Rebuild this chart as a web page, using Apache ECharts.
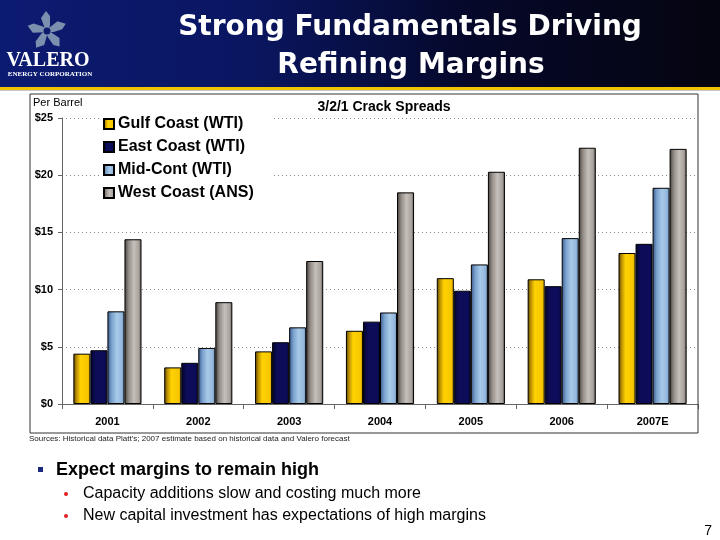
<!DOCTYPE html>
<html>
<head>
<meta charset="utf-8">
<script src="https://cdn.jsdelivr.net/npm/echarts@6/dist/echarts.min.js"></script>
<style>
html,body{margin:0;padding:0;background:#fff;}
#chart{width:720px;height:540px;}
</style>
</head>
<body>
<div id="chart"></div>
<script>
const categories = ['2001', '2002', '2003', '2004', '2005', '2006', '2007E'];
const seriesNames = ['Gulf Coast (WTI)', 'East Coast (WTI)', 'Mid-Cont (WTI)', 'West Coast (ANS)'];
const gulfCoast = [4.4, 3.2, 4.6, 6.4, 11.0, 10.9, 13.2];
const eastCoast = [4.7, 3.6, 5.4, 7.2, 9.9, 10.3, 14.0];
const midCont = [8.1, 4.9, 6.7, 8.0, 12.2, 14.5, 18.9];
const westCoast = [14.4, 8.9, 12.5, 18.5, 20.3, 22.4, 22.3];
const yTicks = [0, 5, 10, 15, 20, 25];

const G = echarts.graphic.LinearGradient;
const fills = [
  new G(0, 0, 1, 0, [{offset: 0, color: '#5e4600'}, {offset: 0.2, color: '#c09400'}, {offset: 0.42, color: '#ffd200'}, {offset: 0.85, color: '#f7c600'}, {offset: 1, color: '#d0a000'}]),
  new G(0, 0, 1, 0, [{offset: 0, color: '#04042a'}, {offset: 0.3, color: '#0c0c58'}, {offset: 0.8, color: '#0c0c5a'}, {offset: 1, color: '#070738'}]),
  new G(0, 0, 1, 0, [{offset: 0, color: '#36568a'}, {offset: 0.25, color: '#7aa2cd'}, {offset: 0.55, color: '#a8cae9'}, {offset: 0.85, color: '#94b8dc'}, {offset: 1, color: '#5f82b0'}]),
  new G(0, 0, 1, 0, [{offset: 0, color: '#45403c'}, {offset: 0.25, color: '#958d87'}, {offset: 0.55, color: '#c6c0ba'}, {offset: 0.85, color: '#a8a19b'}, {offset: 1, color: '#56504c'}])
];
const dataSets = [gulfCoast, eastCoast, midCont, westCoast];

function starArms() {
  const arms = [];
  for (let i = 0; i < 5; i++) {
    arms.push({
      type: 'polygon',
      x: 47, y: 31,
      rotation: -i * Math.PI * 2 / 5,
      shape: {points: [[-2, -2], [-6, -13], [-1, -20], [3, -15], [3, -6], [2, -1]]},
      style: {fill: '#7a90ae'}
    });
  }
  arms.push({type: 'circle', shape: {cx: 47, cy: 31, r: 3.5}, style: {fill: '#0b1a6b'}});
  return arms;
}

const chart = echarts.init(document.getElementById('chart'), null, {renderer: 'canvas'});
chart.setOption({
  animation: false,
  backgroundColor: '#ffffff',
  grid: {left: 62, right: 22, top: 118, bottom: 136, containLabel: false},
  legend: {
    data: seriesNames,
    orient: 'vertical',
    left: 100, top: 112,
    padding: [4, 20, 4, 3],
    backgroundColor: '#ffffff',
    itemWidth: 10, itemHeight: 10, itemGap: 7,
    icon: 'rect',
    textStyle: {fontFamily: 'Liberation Sans, Arial', fontWeight: 'bold', fontSize: 16, color: '#000', lineHeight: 16, padding: [0, 0, 0, -1]}
  },
  xAxis: {
    type: 'category',
    data: categories,
    axisLine: {lineStyle: {color: '#666', width: 1}},
    axisTick: {show: true, length: 5, lineStyle: {color: '#666'}},
    axisLabel: {fontFamily: 'Liberation Sans, Arial', fontWeight: 'bold', fontSize: 11, color: '#000', margin: 12}
  },
  yAxis: {
    type: 'value',
    min: yTicks[0], max: yTicks[yTicks.length - 1], interval: 5,
    axisLine: {show: true, lineStyle: {color: '#666', width: 1}},
    axisTick: {show: true, length: 4, lineStyle: {color: '#666'}},
    axisLabel: {fontFamily: 'Liberation Sans, Arial', fontWeight: 'bold', fontSize: 11, color: '#000', margin: 9, formatter: v => '$' + v},
    splitLine: {show: true, lineStyle: {color: '#888', type: [1, 3], width: 1}}
  },
  series: seriesNames.map((name, i) => ({
    name: name,
    type: 'bar',
    data: dataSets[i],
    barGap: '0%',
    barCategoryGap: '25%',
    itemStyle: {color: fills[i], borderColor: '#000', borderWidth: 1},
    emphasis: {disabled: true}
  })),
  graphic: [
    {type: 'rect', shape: {x: 0, y: 0, width: 720, height: 88}, z: -1,
      style: {fill: new G(0, 0, 1, 0, [{offset: 0, color: '#0c1b72'}, {offset: 0.35, color: '#0a1660'}, {offset: 0.65, color: '#05082a'}, {offset: 1, color: '#050510'}])}},
    {type: 'rect', shape: {x: 0, y: 87, width: 720, height: 3}, style: {fill: '#f0c400'}},
    {type: 'rect', shape: {x: 0, y: 90, width: 720, height: 1}, style: {fill: '#c8c8c8'}},
    ...starArms(),
    {type: 'text', x: 48, y: 61, style: {text: 'VALERO', fill: '#fff', font: 'bold 20px "Liberation Serif", serif', textAlign: 'center', textVerticalAlign: 'middle'}},
    {type: 'text', x: 50, y: 74, style: {text: 'ENERGY CORPORATION', fill: '#fff', font: 'bold 7px "Liberation Serif", serif', textAlign: 'center', textVerticalAlign: 'middle'}},
    {type: 'text', x: 410, y: 28, style: {text: 'Strong Fundamentals Driving', fill: '#fff', font: 'bold 28px "DejaVu Sans"', textAlign: 'center', textVerticalAlign: 'middle'}},
    {type: 'text', x: 411, y: 66, style: {text: 'Refining Margins', fill: '#fff', font: 'bold 28px "DejaVu Sans"', textAlign: 'center', textVerticalAlign: 'middle'}},
    {type: 'rect', shape: {x: 30, y: 94, width: 668, height: 339}, z: 100, silent: true,
      style: {fill: 'none', stroke: '#333', lineWidth: 1}},
    {type: 'text', x: 33, y: 103, style: {text: 'Per Barrel', fill: '#000', font: '11px "Liberation Sans", Arial', textVerticalAlign: 'middle'}},
    {type: 'text', x: 384, y: 107, style: {text: '3/2/1 Crack Spreads', fill: '#000', font: 'bold 14px "Liberation Sans", Arial', textAlign: 'center', textVerticalAlign: 'middle'}},
    {type: 'text', x: 29, y: 439, style: {text: "Sources: Historical data Platt's; 2007 estimate based on historical data and Valero forecast", fill: '#222', font: '8px "Liberation Sans", Arial', textVerticalAlign: 'middle'}},
    {type: 'rect', shape: {x: 38, y: 467, width: 5, height: 5}, style: {fill: '#1a2a80'}},
    {type: 'text', x: 56, y: 470, style: {text: 'Expect margins to remain high', fill: '#000', font: 'bold 18px "Liberation Sans", Arial', textVerticalAlign: 'middle'}},
    {type: 'circle', shape: {cx: 66, cy: 494, r: 2}, style: {fill: '#e02020'}},
    {type: 'text', x: 83, y: 494, style: {text: 'Capacity additions slow and costing much more', fill: '#000', font: '16px "Liberation Sans", Arial', textVerticalAlign: 'middle'}},
    {type: 'circle', shape: {cx: 66, cy: 516, r: 2}, style: {fill: '#e02020'}},
    {type: 'text', x: 83, y: 516, style: {text: 'New capital investment has expectations of high margins', fill: '#000', font: '16px "Liberation Sans", Arial', textVerticalAlign: 'middle'}},
    {type: 'text', x: 712, y: 531, style: {text: '7', fill: '#000', font: '14px "Liberation Sans", Arial', textAlign: 'right', textVerticalAlign: 'middle'}}
  ]
});
</script>
</body>
</html>
